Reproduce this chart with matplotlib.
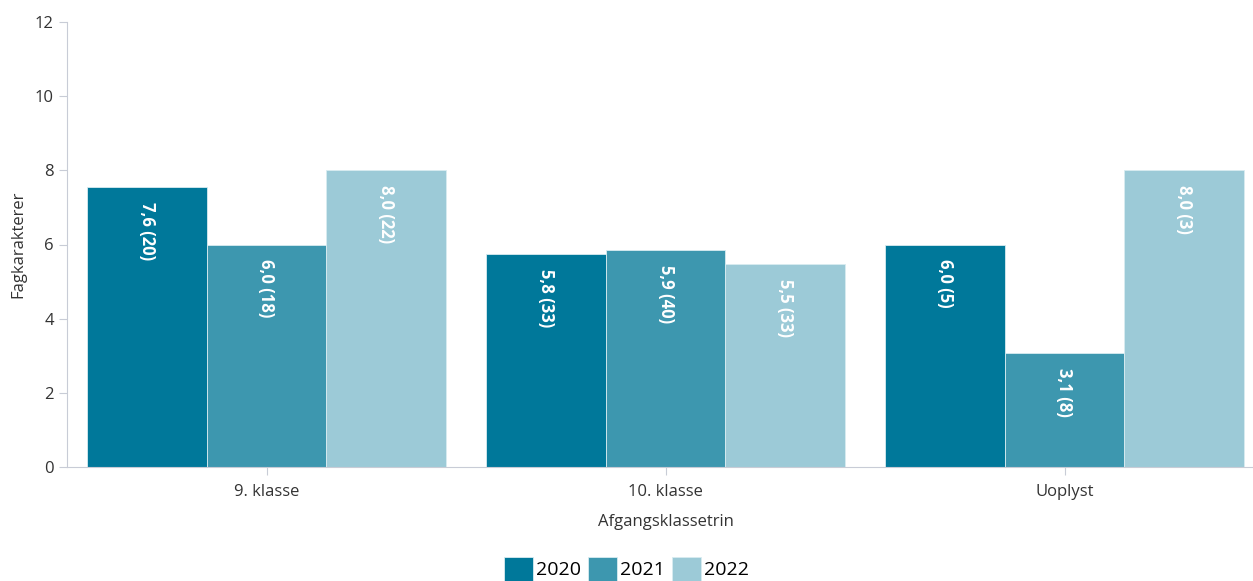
import matplotlib.pyplot as plt
import numpy as np

plt.rcParams['font.family'] = ['Open Sans', 'DejaVu Sans']

categories = ['9. klasse', '10. klasse', 'Uoplyst']
years = ['2020', '2021', '2022']
values = {
    '2020': [7.55, 5.75, 6.0],
    '2021': [6.0, 5.85, 3.08],
    '2022': [8.0, 5.48, 8.0],
}
labels = {
    '2020': ['7,6 (20)', '5,8 (33)', '6,0 (5)'],
    '2021': ['6,0 (18)', '5,9 (40)', '3,1 (8)'],
    '2022': ['8,0 (22)', '5,5 (33)', '8,0 (3)'],
}
colors = ['#00789a', '#3d97af', '#9ccad7']

fig = plt.figure(figsize=(12.53, 5.81), dpi=100)
ax = fig.add_axes([67 / 1253, 1 - 467 / 581, 1197 / 1253, 445 / 581])

x = np.arange(len(categories))
w = 0.3
for i, yr in enumerate(years):
    pos = x + (i - 1) * w
    ax.bar(pos, values[yr], width=w, color=colors[i],
           edgecolor='#d8ecf1', linewidth=0.6, label=yr, zorder=2)
    for xp, v, lab in zip(pos, values[yr], labels[yr]):
        ax.text(xp, v - 0.4, lab, rotation=270, ha='center', va='top',
                color='white', fontsize=12, fontweight='bold', zorder=3)

ax.set_xlim(-0.5, 2.5)
ax.set_ylim(0, 12)
ax.set_yticks(range(0, 13, 2))
ax.set_xticks(x)
ax.set_xticklabels(categories)

for s in ['top', 'right']:
    ax.spines[s].set_visible(False)
ax.spines['left'].set_color('#c8ccd6')
ax.spines['bottom'].set_color('#c8ccd6')
ax.tick_params(axis='both', colors='#c8ccd6', labelcolor='#333333',
               labelsize=12, length=6)
ax.tick_params(axis='x', pad=6)

ax.set_xlabel('Afgangsklassetrin', fontsize=12, color='#333333', labelpad=10)
ax.set_ylabel('Fagkarakterer', fontsize=12, color='#333333', labelpad=6)

fig.legend(loc='lower center', bbox_to_anchor=(0.5, -0.03), ncol=3,
           frameon=False, fontsize=14, handlelength=1.5, handleheight=1.5,
           handletextpad=0.15, columnspacing=0.35)

fig.savefig('out.png', dpi=100)
